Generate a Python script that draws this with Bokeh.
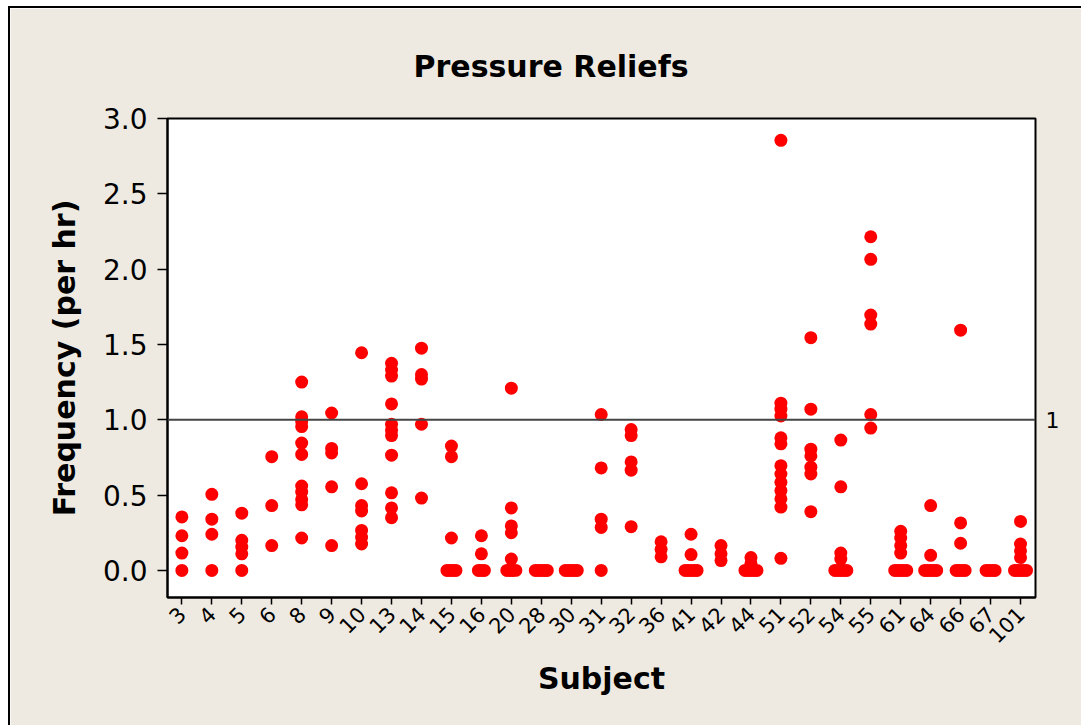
import math
from collections import defaultdict
from bokeh.plotting import figure
from bokeh.models import Range1d, FixedTicker, LinearAxis, Span, ColumnDataSource, Title
from bokeh.embed import file_html
from bokeh.resources import INLINE

subjects = ["3", "4", "5", "6", "8", "9", "10", "13", "14", "15", "16", "20", "28", "30",
            "31", "32", "36", "41", "42", "44", "51", "52", "54", "55", "61", "64", "66", "67", "101"]

# one entry per point: subject label and frequency (per hr)
point_subject = (
    ["3"] * 4 + ["4"] * 4 + ["5"] * 5 + ["6"] * 3 + ["8"] * 11 + ["9"] * 5 + ["10"] * 7 +
    ["13"] * 11 + ["14"] * 5 + ["15"] * 7 + ["16"] * 5 + ["20"] * 9 + ["28"] * 5 + ["30"] * 5 +
    ["31"] * 5 + ["32"] * 5 + ["36"] * 3 + ["41"] * 7 + ["42"] * 3 + ["44"] * 7 + ["51"] * 13 +
    ["52"] * 7 + ["54"] * 9 + ["55"] * 6 + ["61"] * 9 + ["64"] * 7 + ["66"] * 7 + ["67"] * 4 +
    ["101"] * 9
)
frequency = [
    0.355, 0.23, 0.115, 0.0,                                   # 3
    0.505, 0.34, 0.24, 0.0,                                    # 4
    0.38, 0.2, 0.155, 0.11, 0.0,                               # 5
    0.755, 0.43, 0.165,                                        # 6
    1.25, 1.02, 0.99, 0.955, 0.845, 0.77, 0.56, 0.52, 0.47, 0.435, 0.215,   # 8
    1.045, 0.81, 0.78, 0.555, 0.165,                           # 9
    1.445, 0.575, 0.43, 0.395, 0.265, 0.22, 0.175,             # 10
    1.375, 1.33, 1.29, 1.105, 0.97, 0.93, 0.895, 0.765, 0.515, 0.415, 0.35,  # 13
    1.475, 1.3, 1.27, 0.97, 0.48,                              # 14
    0.825, 0.755, 0.215, 0.0, 0.0, 0.0, 0.0,                   # 15
    0.23, 0.11, 0.0, 0.0, 0.0,                                 # 16
    1.21, 0.415, 0.295, 0.25, 0.075, 0.0, 0.0, 0.0, 0.0,       # 20
    0.0, 0.0, 0.0, 0.0, 0.0,                                   # 28
    0.0, 0.0, 0.0, 0.0, 0.0,                                   # 30
    1.035, 0.68, 0.34, 0.285, 0.0,                             # 31
    0.935, 0.895, 0.72, 0.665, 0.29,                           # 32
    0.19, 0.14, 0.09,                                          # 36
    0.24, 0.105, 0.0, 0.0, 0.0, 0.0, 0.0,                      # 41
    0.165, 0.11, 0.065,                                        # 42
    0.085, 0.045, 0.0, 0.0, 0.0, 0.0, 0.0,                     # 44
    2.855, 1.11, 1.07, 1.025, 0.88, 0.84, 0.695, 0.64, 0.585, 0.53, 0.475, 0.42, 0.08,  # 51
    1.545, 1.07, 0.805, 0.76, 0.685, 0.64, 0.39,               # 52
    0.865, 0.555, 0.115, 0.075, 0.0, 0.0, 0.0, 0.0, 0.0,       # 54
    2.215, 2.065, 1.695, 1.635, 1.035, 0.945,                  # 55
    0.26, 0.215, 0.165, 0.115, 0.0, 0.0, 0.0, 0.0, 0.0,        # 61
    0.43, 0.1, 0.0, 0.0, 0.0, 0.0, 0.0,                        # 64
    1.595, 0.315, 0.18, 0.0, 0.0, 0.0, 0.0,                    # 66
    0.0, 0.0, 0.0, 0.0,                                        # 67
    0.325, 0.175, 0.13, 0.085, 0.0, 0.0, 0.0, 0.0, 0.0,        # 101
]

y_ticks = [0.0, 0.5, 1.0, 1.5, 2.0, 2.5, 3.0]
reference_value = 1.0

# positions: category index, tied values placed side by side
pos = {s: i + 1 for i, s in enumerate(subjects)}
groups = defaultdict(list)
for k, (s, v) in enumerate(zip(point_subject, frequency)):
    groups[(s, v)].append(k)
xs = [0.0] * len(frequency)
step = 0.1
for (s, v), idx in groups.items():
    n = len(idx)
    for j, k in enumerate(idx):
        xs[k] = pos[s] + (j - (n - 1) / 2) * step

src = ColumnDataSource(dict(x=xs, y=frequency))

BG = "#EEEAE1"
FONT = "DejaVu Sans"

p = figure(width=1073, height=719, output_backend="svg", toolbar_location=None,
           x_range=Range1d(0.52, 29.5), y_range=Range1d(-0.18, 3.0),
           min_border_left=157, min_border_right=48, min_border_top=110, min_border_bottom=130,
           background_fill_color="white", border_fill_color=BG,
           outline_line_color="black", outline_line_width=2,
           margin=(6, 0, 0, 8),
           styles={"border-left": "2px solid black", "border-top": "2px solid black"})

p.title = Title(text="Pressure Reliefs", align="left", offset=246,
                text_font=FONT, text_font_size="30px", text_font_style="bold",
                text_color="black", standoff=70)

p.xgrid.visible = False
p.ygrid.visible = False

# x axis
xa = p.xaxis[0]
xa.ticker = FixedTicker(ticks=list(range(1, len(subjects) + 1)))
xa.major_label_overrides = {i + 1: s for i, s in enumerate(subjects)}
xa.major_label_orientation = math.pi / 4
xa.major_label_text_font = FONT
xa.major_label_text_font_size = "21px"
xa.major_label_text_color = "black"
xa.major_label_standoff = 6
xa.major_tick_in = 0
xa.major_tick_out = 7
xa.major_tick_line_color = "black"
xa.major_tick_line_width = 1.5
xa.minor_tick_line_color = None
xa.axis_line_color = "black"
xa.axis_line_width = 2
xa.axis_label = "Subject"
xa.axis_label_text_font = FONT
xa.axis_label_text_font_size = "30px"
xa.axis_label_text_font_style = "bold"
xa.axis_label_text_color = "black"
xa.axis_label_standoff = 8

# y axis
ya = p.yaxis[0]
ya.ticker = FixedTicker(ticks=y_ticks)
ya.major_label_overrides = {t: f"{t:.1f}" for t in y_ticks}
ya.major_label_text_font = FONT
ya.major_label_text_font_size = "28px"
ya.major_label_text_color = "black"
ya.major_label_standoff = 10
ya.major_tick_in = 0
ya.major_tick_out = 10
ya.major_tick_line_color = "black"
ya.major_tick_line_width = 1.5
ya.minor_tick_line_color = None
ya.axis_line_color = "black"
ya.axis_line_width = 2
ya.axis_label = "Frequency (per hr)"
ya.axis_label_text_font = FONT
ya.axis_label_text_font_size = "30px"
ya.axis_label_text_font_style = "bold"
ya.axis_label_text_color = "black"
ya.axis_label_standoff = 18

# reference line and its label on the right
p.add_layout(Span(location=reference_value, dimension="width",
                  line_color="#444444", line_width=2))
ra = LinearAxis(ticker=FixedTicker(ticks=[reference_value]),
                major_label_overrides={reference_value: "1"},
                axis_line_color=None, major_tick_line_color=None, minor_tick_line_color=None,
                major_label_text_font=FONT, major_label_text_font_size="22px",
                major_label_text_color="black", major_label_standoff=4)
p.add_layout(ra, "right")

p.scatter("x", "y", source=src, size=13, fill_color="#FF0000", line_color=None)

html = file_html(p, INLINE)
html = html.replace("<body>", "<body style=\"margin:0;background:white;\">")
open("out.html", "w").write(html)
